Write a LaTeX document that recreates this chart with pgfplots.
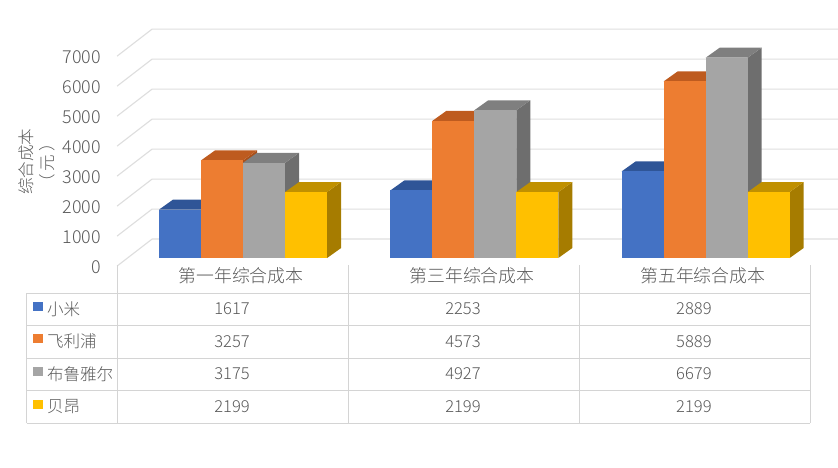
\documentclass[border=0pt]{standalone}
\usepackage{pgfplots}
\pgfplotsset{compat=1.18}
\usepackage{fontspec}
\setmainfont{Noto Sans CJK SC Light}
\definecolor{gridc}{HTML}{DEDEDE}
\definecolor{tabline}{HTML}{D4D4D4}
\definecolor{txt}{HTML}{595959}
\definecolor{xmblue}{HTML}{4472C4}
\definecolor{xmblueT}{HTML}{2F5597}
\definecolor{xmblueS}{HTML}{264478}
\definecolor{phor}{HTML}{ED7D31}
\definecolor{phorT}{HTML}{BE5B1F}
\definecolor{phorS}{HTML}{A8501B}
\definecolor{brgr}{HTML}{A5A5A5}
\definecolor{brgrT}{HTML}{7F7F7F}
\definecolor{brgrS}{HTML}{6E6E6E}
\definecolor{byye}{HTML}{FFC000}
\definecolor{byyeT}{HTML}{C09000}
\definecolor{byyeS}{HTML}{A67C00}
% x in pixels, y in yuan; depth of a bar is 14px across and 10px (333.33) up
\newcommand{\threebar}[3]{%
  \pgfmathsetmacro{\xa}{#1+42}%
  \pgfmathsetmacro{\xb}{#1+56}%
  \pgfmathsetmacro{\xc}{#1+14}%
  \pgfmathsetmacro{\ya}{#2+333.33}%
  \addplot[fill=#3S,draw=none] coordinates {(\xa,0)(\xb,333.33)(\xb,\ya)(\xa,#2)} --cycle;
  \addplot[fill=#3T,draw=none] coordinates {(#1,#2)(\xc,\ya)(\xb,\ya)(\xa,#2)} --cycle;
  \addplot[fill=#3,draw=none] coordinates {(#1,0)(\xa,0)(\xa,#2)(#1,#2)} --cycle;
}
\newcommand{\gridline}[1]{%
  \pgfmathsetmacro{\yf}{#1-266.67}%
  \pgfmathsetmacro{\yb}{#1+633.33}%
  \addplot[gridc,line width=0.85pt] coordinates {(117,\yf)(152,\yb)(838,\yb)};
}
\newcommand{\legsq}[2]{%
  \pgfmathsetmacro{\ya}{#1-150}%
  \pgfmathsetmacro{\yb}{#1+150}%
  \addplot[fill=#2,draw=none] coordinates {(33,\ya)(42.5,\ya)(42.5,\yb)(33,\yb)} --cycle;
}
\begin{document}
\begin{tikzpicture}
\begin{axis}[
  x=0.75pt, y=0.0225pt,
  xmin=0, xmax=838, ymin=-6966.67, ymax=8600,
  axis line style={draw=none},
  major tick length=0pt,
  no markers,
  xtick={241,472,703},
  xticklabels={第一年综合成本,第三年综合成本,第五年综合成本},
  xticklabel style={font=\fontsize{13.4pt}{16pt}\selectfont,text=txt,yshift=153pt},
  ytick={-266.67,733.33,1733.33,2733.33,3733.33,4733.33,5733.33,6733.33},
  yticklabels={0,1000,2000,3000,4000,5000,6000,7000},
  yticklabel style={font=\fontsize{13.4pt}{16pt}\selectfont,text=txt,anchor=east,xshift=79pt,yshift=-0.7pt},
  every axis plot/.append style={line join=round},
]
\gridline{0}
\gridline{1000}
\gridline{2000}
\gridline{3000}
\gridline{4000}
\gridline{5000}
\gridline{6000}
\gridline{7000}

\threebar{159}{1617}{xmblue}
\threebar{201}{3257}{phor}
\threebar{243}{3175}{brgr}
\threebar{285}{2199}{byye}

\threebar{390.3}{2253}{xmblue}
\threebar{432.3}{4573}{phor}
\threebar{474.3}{4927}{brgr}
\threebar{516.3}{2199}{byye}

\threebar{621.7}{2889}{xmblue}
\threebar{663.7}{5889}{phor}
\threebar{705.7}{6679}{brgr}
\threebar{747.7}{2199}{byye}

% data table rules
\addplot[tabline,line width=0.75pt] coordinates {(26.5,-1166.67)(810.5,-1166.67)};
\addplot[tabline,line width=0.75pt] coordinates {(26.5,-2250)(810.5,-2250)};
\addplot[tabline,line width=0.75pt] coordinates {(26.5,-3333.33)(810.5,-3333.33)};
\addplot[tabline,line width=0.75pt] coordinates {(26.5,-4416.67)(810.5,-4416.67)};
\addplot[tabline,line width=0.75pt] coordinates {(26.5,-5500)(810.5,-5500)};
\addplot[tabline,line width=0.75pt] coordinates {(26.5,-1166.67)(26.5,-5500)};
\addplot[tabline,line width=0.75pt] coordinates {(117.5,-233)(117.5,-5500)};
\addplot[tabline,line width=0.75pt] coordinates {(348.7,-233)(348.7,-5500)};
\addplot[tabline,line width=0.75pt] coordinates {(579.6,-233)(579.6,-5500)};
\addplot[tabline,line width=0.75pt] coordinates {(810.5,-233)(810.5,-5500)};

\legsq{-1600}{xmblue}
\legsq{-2683}{phor}
\legsq{-3767}{brgr}
\legsq{-4867}{byye}

\begin{scope}[every node/.style={text=txt,inner sep=0pt,font=\fontsize{12.4pt}{15pt}\selectfont}]
\node[anchor=west] at (axis cs:46.7,-1697) {小米};
\node[anchor=west] at (axis cs:46.7,-2780) {飞利浦};
\node[anchor=west] at (axis cs:46.7,-3863) {布鲁雅尔};
\node[anchor=west] at (axis cs:46.7,-4963) {贝昂};

\node at (axis cs:232,-1697) {1617};
\node at (axis cs:232,-2786) {3257};
\node at (axis cs:232,-3863) {3175};
\node at (axis cs:232,-4963) {2199};
\node at (axis cs:463,-1697) {2253};
\node at (axis cs:463,-2786) {4573};
\node at (axis cs:463,-3863) {4927};
\node at (axis cs:463,-4963) {2199};
\node at (axis cs:694,-1697) {2889};
\node at (axis cs:694,-2786) {5889};
\node at (axis cs:694,-3863) {6679};
\node at (axis cs:694,-4963) {2199};

\node[rotate=90] at (axis cs:26,3210) {综合成本};
\node[rotate=90] at (axis cs:47,3170) {（\,元\,）};
\end{scope}
\end{axis}
\end{tikzpicture}
\end{document}
